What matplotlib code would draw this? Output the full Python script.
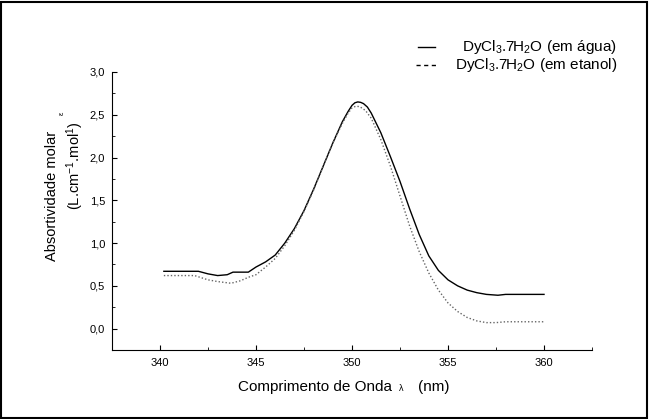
import matplotlib.pyplot as plt
from matplotlib.lines import Line2D
from matplotlib.patches import Rectangle
from matplotlib.ticker import MultipleLocator, FuncFormatter

plt.rcParams['font.family'] = ['Liberation Sans', 'DejaVu Sans']
plt.rcParams['mathtext.fontset'] = 'custom'
plt.rcParams['mathtext.rm'] = 'Liberation Sans'
plt.rcParams['mathtext.it'] = 'Liberation Sans'

# espectro em água (linha cheia)
wl_agua = [340.2, 341.0, 342.0, 342.5, 343.0, 343.5, 343.8, 344.6, 345.0, 345.5,
           346.0, 346.5, 347.0, 347.5, 348.0, 348.5, 349.0, 349.5, 349.8, 350.0,
           350.15, 350.3, 350.45, 350.6, 350.8, 351.0, 351.5, 352.0, 352.5, 353.0,
           353.5, 354.0, 354.5, 355.0, 355.5, 356.0, 356.5, 357.0, 357.6, 358.0,
           359.0, 360.0]
abs_agua = [0.67, 0.67, 0.67, 0.64, 0.62, 0.63, 0.66, 0.66, 0.72, 0.78,
            0.86, 1.00, 1.17, 1.38, 1.63, 1.90, 2.17, 2.42, 2.54, 2.61,
            2.64, 2.65, 2.645, 2.63, 2.59, 2.52, 2.29, 2.01, 1.72, 1.40,
            1.10, 0.85, 0.68, 0.57, 0.50, 0.45, 0.42, 0.40, 0.39, 0.40,
            0.40, 0.40]

# espectro em etanol (pontilhado)
wl_etanol = [340.2, 341.0, 341.8, 342.5, 343.0, 343.7, 344.2, 344.6, 345.0, 345.5,
             346.0, 346.5, 347.0, 347.5, 348.0, 348.5, 349.0, 349.5, 349.8, 350.0,
             350.2, 350.4, 350.7, 351.0, 351.5, 352.0, 352.5, 353.0, 353.5, 354.0,
             354.5, 355.0, 355.5, 356.0, 356.5, 357.0, 357.5, 358.0, 359.0, 360.0]
abs_etanol = [0.62, 0.62, 0.62, 0.57, 0.55, 0.53, 0.56, 0.60, 0.63, 0.72,
              0.82, 0.97, 1.15, 1.37, 1.62, 1.90, 2.17, 2.40, 2.52, 2.58,
              2.60, 2.595, 2.55, 2.46, 2.21, 1.90, 1.55, 1.20, 0.90, 0.65,
              0.45, 0.30, 0.20, 0.13, 0.09, 0.07, 0.07, 0.08, 0.08, 0.08]

legend_labels = [r'DyCl$_3$.7H$_2$O (em água)', r'DyCl$_3$.7H$_2$O (em etanol)']

fig = plt.figure(figsize=(6.49, 4.19), dpi=100)
ax = fig.add_axes([0.1726, 0.1647, 0.7396, 0.6635])

ax.plot(wl_agua, abs_agua, color='black', lw=1.0)
ax.plot(wl_etanol, abs_etanol, color='0.4', lw=1.0, linestyle=(0, (1, 1.5)))

ax.set_xlim(337.5, 362.5)
ax.set_ylim(-0.25, 3.0)
ax.xaxis.set_major_locator(MultipleLocator(5))
ax.xaxis.set_minor_locator(MultipleLocator(2.5))
ax.yaxis.set_major_locator(MultipleLocator(0.5))
ax.yaxis.set_minor_locator(MultipleLocator(0.25))
ax.yaxis.set_major_formatter(FuncFormatter(lambda v, p: f"{v:.1f}".replace('.', ',')))

for s in ['top', 'right']:
    ax.spines[s].set_visible(False)
ax.tick_params(which='major', direction='in', length=3.5, labelsize=8, pad=5)
ax.tick_params(which='minor', direction='in', length=2.5)
ax.tick_params(axis='x', which='major', pad=6)

# rótulo do eixo x (lambda pequeno, como no original)
fig.text(392 / 649, 1 - 387 / 419, 'Comprimento de Onda', fontsize=11,
         ha='right', va='center')
fig.text(401 / 649, 1 - 388 / 419, 'λ', fontsize=6.5, ha='center', va='center')
fig.text(418 / 649, 1 - 387 / 419, '(nm)', fontsize=11, ha='left', va='center')

# rótulo do eixo y em duas linhas
fig.text(52 / 649, 1 - 196 / 419, 'Absortividade molar', rotation=90, fontsize=10.5,
         ha='center', va='center')
fig.text(62 / 649, 1 - 113 / 419, 'ε', rotation=90, fontsize=5.5,
         ha='center', va='center')
fig.text(75 / 649, 1 - 166 / 419, r'(L.cm$^{-1}$.mol$^{1}$)', rotation=90, fontsize=10.5,
         ha='center', va='center')

# legenda manual
fig.add_artist(Line2D([418 / 649, 435 / 649], [1 - 47 / 419] * 2,
                      transform=fig.transFigure, color='black', lw=1.0))
fig.add_artist(Line2D([416 / 649, 437 / 649], [1 - 65 / 419] * 2,
                      transform=fig.transFigure, color='black', lw=1.0,
                      linestyle=(0, (3, 2.5))))
fig.text(617 / 649, 1 - 47 / 419, legend_labels[0], fontsize=11,
         ha='right', va='center')
fig.text(617 / 649, 1 - 65 / 419, legend_labels[1], fontsize=11,
         ha='right', va='center')

fig.patches.append(Rectangle((0.002, 0.003), 0.995, 0.993, transform=fig.transFigure,
                             fill=False, edgecolor='black', lw=1.5))

fig.savefig('out.png', dpi=100)
